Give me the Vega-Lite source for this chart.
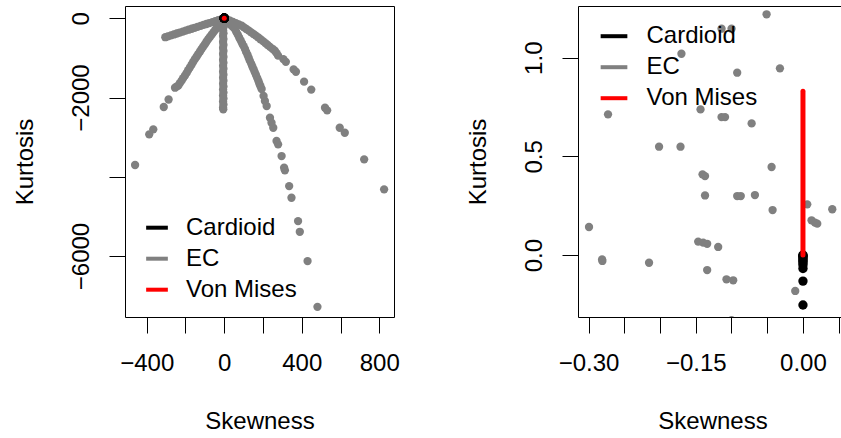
{
  "$schema": "https://vega.github.io/schema/vega-lite/v6.json",
  "background": "white",
  "padding": {"left": 12, "top": 5, "right": 0, "bottom": 0},
  "spacing": 65,
  "config": {
    "font": "Liberation Sans",
    "view": {"stroke": "black", "strokeWidth": 1},
    "axis": {
      "domain": false, "grid": false,
      "tickColor": "black", "tickSize": 16, "tickWidth": 1,
      "labelFont": "Liberation Sans", "labelFontSize": 24, "labelColor": "black",
      "titleFont": "Liberation Sans", "titleFontSize": 24, "titleFontWeight": "normal", "titleColor": "black",
      "labelOverlap": false, "labelFlush": false, "labelBound": false
    },
    "axisX": {"labelPadding": 18, "titlePadding": 34},
    "axisY": {"labelAngle": -90, "labelPadding": 16, "titlePadding": 32},
    "legend": {
      "labelFont": "Liberation Sans", "labelFontSize": 24, "labelColor": "black",
      "symbolType": "stroke", "symbolStrokeWidth": 4, "title": null, "padding": 0
    }
  },
  "resolve": {"scale": {"stroke": "independent"}, "legend": {"stroke": "independent"}},
  "datasets": {
    "ec": [
      {"skewness": -15, "kurtosis": -24}, {"skewness": -31, "kurtosis": -48}, {"skewness": -46, "kurtosis": -72},
      {"skewness": -61, "kurtosis": -96}, {"skewness": -77, "kurtosis": -120}, {"skewness": -92, "kurtosis": -144},
      {"skewness": -107, "kurtosis": -168}, {"skewness": -122, "kurtosis": -192}, {"skewness": -138, "kurtosis": -216},
      {"skewness": -153, "kurtosis": -240}, {"skewness": -168, "kurtosis": -264}, {"skewness": -184, "kurtosis": -288},
      {"skewness": -199, "kurtosis": -312}, {"skewness": -214, "kurtosis": -336}, {"skewness": -230, "kurtosis": -360},
      {"skewness": -245, "kurtosis": -384}, {"skewness": -260, "kurtosis": -408}, {"skewness": -275, "kurtosis": -432},
      {"skewness": -291, "kurtosis": -456}, {"skewness": -304, "kurtosis": -478},

      {"skewness": -9, "kurtosis": -58}, {"skewness": -18, "kurtosis": -116}, {"skewness": -27, "kurtosis": -174},
      {"skewness": -36, "kurtosis": -232}, {"skewness": -46, "kurtosis": -290}, {"skewness": -55, "kurtosis": -349},
      {"skewness": -64, "kurtosis": -407}, {"skewness": -73, "kurtosis": -465}, {"skewness": -82, "kurtosis": -523},
      {"skewness": -91, "kurtosis": -586}, {"skewness": -99, "kurtosis": -649}, {"skewness": -108, "kurtosis": -712},
      {"skewness": -117, "kurtosis": -775}, {"skewness": -125, "kurtosis": -838}, {"skewness": -134, "kurtosis": -901},
      {"skewness": -142, "kurtosis": -964}, {"skewness": -151, "kurtosis": -1027}, {"skewness": -160, "kurtosis": -1097},
      {"skewness": -168, "kurtosis": -1168}, {"skewness": -177, "kurtosis": -1238}, {"skewness": -186, "kurtosis": -1308},
      {"skewness": -194, "kurtosis": -1379}, {"skewness": -203, "kurtosis": -1449}, {"skewness": -212, "kurtosis": -1512},
      {"skewness": -220, "kurtosis": -1575}, {"skewness": -229, "kurtosis": -1638}, {"skewness": -237, "kurtosis": -1701},
      {"skewness": -246, "kurtosis": -1725}, {"skewness": -254, "kurtosis": -1752},
      {"skewness": -287, "kurtosis": -2050}, {"skewness": -312, "kurtosis": -2240}, {"skewness": -366, "kurtosis": -2803},
      {"skewness": -387, "kurtosis": -2929}, {"skewness": -460, "kurtosis": -3704},

      {"skewness": -4, "kurtosis": -75}, {"skewness": -6, "kurtosis": -150}, {"skewness": -4, "kurtosis": -225},
      {"skewness": -6, "kurtosis": -300}, {"skewness": -4, "kurtosis": -375}, {"skewness": -6, "kurtosis": -450},
      {"skewness": -4, "kurtosis": -525}, {"skewness": -6, "kurtosis": -600}, {"skewness": -4, "kurtosis": -675},
      {"skewness": -6, "kurtosis": -750}, {"skewness": -4, "kurtosis": -825}, {"skewness": -6, "kurtosis": -900},
      {"skewness": -4, "kurtosis": -975}, {"skewness": -6, "kurtosis": -1050}, {"skewness": -4, "kurtosis": -1125},
      {"skewness": -6, "kurtosis": -1200}, {"skewness": -4, "kurtosis": -1275}, {"skewness": -6, "kurtosis": -1350},
      {"skewness": -4, "kurtosis": -1425}, {"skewness": -6, "kurtosis": -1500}, {"skewness": -4, "kurtosis": -1575},
      {"skewness": -6, "kurtosis": -1650}, {"skewness": -4, "kurtosis": -1725}, {"skewness": -6, "kurtosis": -1800},
      {"skewness": -4, "kurtosis": -1875}, {"skewness": -6, "kurtosis": -1950}, {"skewness": -4, "kurtosis": -2025},
      {"skewness": -6, "kurtosis": -2100}, {"skewness": -4, "kurtosis": -2175}, {"skewness": -6, "kurtosis": -2250},
      {"skewness": -5, "kurtosis": -2298},

      {"skewness": 11, "kurtosis": -54}, {"skewness": 22, "kurtosis": -108}, {"skewness": 33, "kurtosis": -162},
      {"skewness": 44, "kurtosis": -216}, {"skewness": 55, "kurtosis": -270}, {"skewness": 62, "kurtosis": -342},
      {"skewness": 70, "kurtosis": -414}, {"skewness": 77, "kurtosis": -486}, {"skewness": 85, "kurtosis": -558},
      {"skewness": 92, "kurtosis": -631}, {"skewness": 100, "kurtosis": -703}, {"skewness": 107, "kurtosis": -775},
      {"skewness": 113, "kurtosis": -849}, {"skewness": 120, "kurtosis": -922}, {"skewness": 126, "kurtosis": -996},
      {"skewness": 132, "kurtosis": -1070}, {"skewness": 139, "kurtosis": -1143}, {"skewness": 145, "kurtosis": -1217},
      {"skewness": 152, "kurtosis": -1290}, {"skewness": 158, "kurtosis": -1364}, {"skewness": 164, "kurtosis": -1434},
      {"skewness": 170, "kurtosis": -1504}, {"skewness": 176, "kurtosis": -1574}, {"skewness": 181, "kurtosis": -1645},
      {"skewness": 187, "kurtosis": -1715}, {"skewness": 193, "kurtosis": -1785},
      {"skewness": 203, "kurtosis": -1960}, {"skewness": 210, "kurtosis": -2088}, {"skewness": 219, "kurtosis": -2215},
      {"skewness": 236, "kurtosis": -2510}, {"skewness": 244, "kurtosis": -2636}, {"skewness": 253, "kurtosis": -2763},
      {"skewness": 270, "kurtosis": -3098}, {"skewness": 278, "kurtosis": -3182}, {"skewness": 296, "kurtosis": -3477},
      {"skewness": 309, "kurtosis": -3773}, {"skewness": 313, "kurtosis": -3838}, {"skewness": 335, "kurtosis": -4235},
      {"skewness": 347, "kurtosis": -4530}, {"skewness": 381, "kurtosis": -5119}, {"skewness": 390, "kurtosis": -5389},
      {"skewness": 430, "kurtosis": -6129}, {"skewness": 481, "kurtosis": -7283},

      {"skewness": 15, "kurtosis": -31}, {"skewness": 30, "kurtosis": -62}, {"skewness": 45, "kurtosis": -94},
      {"skewness": 60, "kurtosis": -125}, {"skewness": 75, "kurtosis": -156}, {"skewness": 90, "kurtosis": -187},
      {"skewness": 102, "kurtosis": -229}, {"skewness": 114, "kurtosis": -271}, {"skewness": 127, "kurtosis": -313},
      {"skewness": 139, "kurtosis": -355}, {"skewness": 151, "kurtosis": -396}, {"skewness": 163, "kurtosis": -438},
      {"skewness": 175, "kurtosis": -480}, {"skewness": 187, "kurtosis": -528}, {"skewness": 200, "kurtosis": -577},
      {"skewness": 212, "kurtosis": -625}, {"skewness": 224, "kurtosis": -673}, {"skewness": 236, "kurtosis": -721},
      {"skewness": 249, "kurtosis": -770}, {"skewness": 261, "kurtosis": -818}, {"skewness": 270, "kurtosis": -880},
      {"skewness": 278, "kurtosis": -944},
      {"skewness": 305, "kurtosis": -1030}, {"skewness": 318, "kurtosis": -1100}, {"skewness": 358, "kurtosis": -1290},
      {"skewness": 370, "kurtosis": -1350}, {"skewness": 412, "kurtosis": -1600}, {"skewness": 449, "kurtosis": -1800},
      {"skewness": 520, "kurtosis": -2258}, {"skewness": 531, "kurtosis": -2323}, {"skewness": 596, "kurtosis": -2763},
      {"skewness": 622, "kurtosis": -2889}, {"skewness": 722, "kurtosis": -3561}, {"skewness": 825, "kurtosis": -4318},

      {"skewness": -0.0509, "kurtosis": 1.22}, {"skewness": -0.1139, "kurtosis": 1.147}, {"skewness": -0.0999, "kurtosis": 1.147},
      {"skewness": -0.17, "kurtosis": 1.02}, {"skewness": -0.092, "kurtosis": 0.924}, {"skewness": -0.0322, "kurtosis": 0.946},
      {"skewness": -0.2727, "kurtosis": 0.713}, {"skewness": -0.1433, "kurtosis": 0.738}, {"skewness": -0.1139, "kurtosis": 0.699},
      {"skewness": -0.109, "kurtosis": 0.699}, {"skewness": -0.0718, "kurtosis": 0.667}, {"skewness": -0.2013, "kurtosis": 0.549},
      {"skewness": -0.1713, "kurtosis": 0.549}, {"skewness": -0.1405, "kurtosis": 0.409}, {"skewness": -0.137, "kurtosis": 0.4},
      {"skewness": -0.0439, "kurtosis": 0.446}, {"skewness": -0.137, "kurtosis": 0.302}, {"skewness": -0.092, "kurtosis": 0.299},
      {"skewness": -0.087, "kurtosis": 0.299}, {"skewness": -0.0672, "kurtosis": 0.304}, {"skewness": -0.0425, "kurtosis": 0.228},
      {"skewness": 0.006, "kurtosis": 0.257}, {"skewness": 0.041, "kurtosis": 0.232}, {"skewness": 0.012, "kurtosis": 0.176},
      {"skewness": 0.0168, "kurtosis": 0.164}, {"skewness": 0.02, "kurtosis": 0.159}, {"skewness": -0.2993, "kurtosis": 0.142},
      {"skewness": -0.1466, "kurtosis": 0.068}, {"skewness": -0.1396, "kurtosis": 0.063}, {"skewness": -0.134, "kurtosis": 0.057},
      {"skewness": -0.1186, "kurtosis": 0.041}, {"skewness": -0.281, "kurtosis": -0.022}, {"skewness": -0.2806, "kurtosis": -0.03},
      {"skewness": -0.2153, "kurtosis": -0.039}, {"skewness": -0.134, "kurtosis": -0.076}, {"skewness": -0.107, "kurtosis": -0.123},
      {"skewness": -0.0976, "kurtosis": -0.128}, {"skewness": -0.0108, "kurtosis": -0.182}, {"skewness": -0.0999, "kurtosis": -0.33}
    ],
    "cardioid": [
      {"skewness": 0, "kurtosis": 0}, {"skewness": 0, "kurtosis": -0.003}, {"skewness": 0, "kurtosis": -0.005},
      {"skewness": 0, "kurtosis": -0.01}, {"skewness": 0, "kurtosis": -0.017}, {"skewness": 0, "kurtosis": -0.025},
      {"skewness": 0, "kurtosis": -0.03}, {"skewness": 0, "kurtosis": -0.039}, {"skewness": 0, "kurtosis": -0.05},
      {"skewness": 0, "kurtosis": -0.068}, {"skewness": 0, "kurtosis": -0.132}, {"skewness": 0, "kurtosis": -0.253}
    ],
    "vm": [
      {"skewness": 0, "kurtosis": 0, "model": "Von Mises"}, {"skewness": 0, "kurtosis": 0.01, "model": "Von Mises"},
      {"skewness": 0, "kurtosis": 0.03, "model": "Von Mises"}, {"skewness": 0, "kurtosis": 0.06, "model": "Von Mises"},
      {"skewness": 0, "kurtosis": 0.1, "model": "Von Mises"}, {"skewness": 0, "kurtosis": 0.15, "model": "Von Mises"},
      {"skewness": 0, "kurtosis": 0.2, "model": "Von Mises"}, {"skewness": 0, "kurtosis": 0.3, "model": "Von Mises"},
      {"skewness": 0, "kurtosis": 0.4, "model": "Von Mises"}, {"skewness": 0, "kurtosis": 0.5, "model": "Von Mises"},
      {"skewness": 0, "kurtosis": 0.6, "model": "Von Mises"}, {"skewness": 0, "kurtosis": 0.7, "model": "Von Mises"},
      {"skewness": 0, "kurtosis": 0.8, "model": "Von Mises"}, {"skewness": 0, "kurtosis": 0.83, "model": "Von Mises"}
    ]
  },
  "hconcat": [
    {
      "width": 269,
      "height": 311,
      "encoding": {
        "x": {
          "field": "skewness", "type": "quantitative", "title": "Skewness",
          "scale": {"domain": [-512, 876], "nice": false, "zero": false},
          "axis": {"values": [-400, -200, 0, 200, 400, 600, 800], "format": "d",
                   "labelExpr": "datum.value % 400 == 0 ? datum.label : ''"}
        },
        "y": {
          "field": "kurtosis", "type": "quantitative", "title": "Kurtosis",
          "scale": {"domain": [-7540, 310], "nice": false, "zero": false},
          "axis": {"values": [0, -2000, -4000, -6000], "format": "d",
                   "labelExpr": "datum.value == -4000 ? '' : datum.label"}
        }
      },
      "layer": [
        {"data": {"name": "ec"}, "mark": {"type": "point", "filled": true, "size": 69, "color": "#808080", "opacity": 1, "clip": true}},
        {"data": {"name": "cardioid"}, "mark": {"type": "point", "filled": true, "size": 88, "color": "black", "opacity": 1, "clip": true}},
        {
          "data": {"name": "vm"},
          "mark": {"type": "line", "strokeWidth": 5, "strokeCap": "round", "clip": true},
          "encoding": {
            "order": {"field": "kurtosis", "type": "quantitative"},
            "stroke": {
              "field": "model", "type": "nominal",
              "scale": {"domain": ["Cardioid", "EC", "Von Mises"], "range": ["black", "#808080", "red"]},
              "legend": {"orient": "none", "legendX": 19, "legendY": 208.7, "symbolSize": 471, "labelOffset": 16, "rowPadding": 6}
            }
          }
        }
      ]
    },
    {
      "width": 269,
      "height": 311,
      "encoding": {
        "x": {
          "field": "skewness", "type": "quantitative", "title": "Skewness",
          "scale": {"domain": [-0.3147, 0.0616], "nice": false, "zero": false},
          "axis": {"values": [-0.3, -0.25, -0.2, -0.15, -0.1, -0.05, 0, 0.05], "format": ".2f",
                   "labelExpr": "abs(datum.value + 0.3) < 1e-9 || abs(datum.value + 0.15) < 1e-9 || abs(datum.value) < 1e-9 ? datum.label : ''"}
        },
        "y": {
          "field": "kurtosis", "type": "quantitative", "title": "Kurtosis",
          "scale": {"domain": [-0.314, 1.262], "nice": false, "zero": false},
          "axis": {"values": [0, 0.5, 1], "format": ".1f"}
        }
      },
      "layer": [
        {"data": {"name": "ec"}, "mark": {"type": "point", "filled": true, "size": 69, "color": "#808080", "opacity": 1, "clip": true}},
        {"data": {"name": "cardioid"}, "mark": {"type": "point", "filled": true, "size": 88, "color": "black", "opacity": 1, "clip": true}},
        {
          "data": {"name": "vm"},
          "mark": {"type": "line", "strokeWidth": 5, "strokeCap": "round", "clip": true},
          "encoding": {
            "order": {"field": "kurtosis", "type": "quantitative"},
            "stroke": {
              "field": "model", "type": "nominal",
              "scale": {"domain": ["Cardioid", "EC", "Von Mises"], "range": ["black", "#808080", "red"]},
              "legend": {"orient": "none", "legendX": 20.5, "legendY": 14.7, "symbolSize": 713, "labelOffset": 17, "rowPadding": 3}
            }
          }
        }
      ]
    }
  ]
}
